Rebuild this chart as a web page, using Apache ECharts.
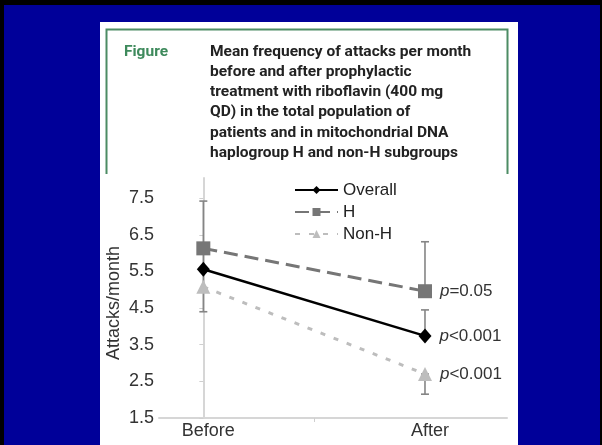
<!DOCTYPE html>
<html>
<head>
<meta charset="utf-8">
<script src="https://cdn.jsdelivr.net/npm/echarts@6/dist/echarts.min.js"></script>
<style>
html,body{margin:0;padding:0;background:#000;}
#chart{width:602px;height:445px;}
</style>
</head>
<body>
<div id="chart"></div>
<script>
// ---- data ----
const categories = ['Before', 'After'];
const seriesNames = ['Overall', 'H', 'Non-H'];
const overall = [5.56, 3.74];
const groupH = [6.13, 4.96];
const nonH = [5.08, 2.70];
const pLabels = ['<0.001', '=0.05', '<0.001'];
// [category index, low, high]
const errorBars = [[0, 4.40, 7.42], [1, 4.96, 6.31], [1, 3.74, 4.45], [1, 2.15, 2.70]];
const yTicks = [1.5, 2.5, 3.5, 4.5, 5.5, 6.5, 7.5];
const yAxisName = 'Attacks/month';
const figureLabel = 'Figure';
const titleLines = [
  'Mean frequency of attacks per month',
  'before and after prophylactic',
  'treatment with riboflavin (400 mg',
  'QD) in the total population of',
  'patients and in mitochondrial DNA',
  'haplogroup H and non-H subgroups'
];

const FONT = '"Liberation Sans", Arial, sans-serif';
const styles = [
  {color: '#000000', width: 2.5, type: 'solid', symbol: 'diamond', size: [13, 15]},
  {color: '#767676', width: 3, type: [14, 7], symbol: 'rect', size: 14},
  {color: '#bdbdbd', width: 3, type: [5, 9], symbol: 'triangle', size: 14}
];
const values = [overall, groupH, nonH];

function buildSeries(i) {
  const st = styles[i];
  const data = values[i].map(function (v, k) {
    if (k === values[i].length - 1) {
      return {
        value: [k, v],
        label: {
          show: true,
          position: 'right',
          distance: 8,
          formatter: '{i|p}{n|' + pLabels[i] + '}',
          rich: {
            i: {fontStyle: 'italic', fontSize: 17, fontFamily: FONT, color: '#333'},
            n: {fontSize: 17, fontFamily: FONT, color: '#333'}
          }
        }
      };
    }
    return [k, v];
  });
  return {
    name: seriesNames[i],
    type: 'line',
    data: data,
    z: 5 - i,
    symbol: st.symbol,
    symbolSize: st.size,
    itemStyle: {color: st.color},
    lineStyle: {color: st.color, width: st.width, type: st.type},
    emphasis: {disabled: true},
    animation: false
  };
}

const chart = echarts.init(document.getElementById('chart'), null, {renderer: 'canvas'});
chart.setOption({
  backgroundColor: '#000',
  animation: false,
  graphic: [
    {type: 'rect', z: 0, shape: {x: 4, y: 5, width: 596, height: 440}, style: {fill: '#000099'}},
    {type: 'rect', z: 0, shape: {x: 100, y: 22, width: 418, height: 423}, style: {fill: '#ffffff'}},
    {type: 'polyline', z: 0, shape: {points: [[106.5, 174], [106.5, 29.5], [507.5, 29.5], [507.5, 174]]},
      style: {stroke: '#4c8c64', lineWidth: 2, fill: null}},
    {type: 'text', z: 1, x: 124, y: 51.7, style: {text: figureLabel, fill: '#3e8a5c',
      font: 'bold 15.5px Roboto, "Liberation Sans", sans-serif', textVerticalAlign: 'middle'}},
    {type: 'text', z: 1, x: 210, y: 41.5, style: {text: titleLines.join('\n'), fill: '#222',
      font: 'bold 15.5px Roboto, "Liberation Sans", sans-serif', lineHeight: 20.3, textVerticalAlign: 'top'}}
  ],
  legend: {
    data: seriesNames,
    orient: 'vertical',
    left: 294,
    top: 179,
    padding: 0,
    itemWidth: 43,
    itemHeight: 10,
    itemGap: 0,
    textStyle: {fontSize: 17, fontFamily: FONT, color: '#222', lineHeight: 22},
    selectedMode: false
  },
  grid: {left: 159, right: 95, top: 178, bottom: 27, containLabel: false},
  xAxis: {
    type: 'value',
    min: -0.2,
    max: 1.37,
    axisLine: {show: true, lineStyle: {color: '#d6d6d6', width: 2}},
    axisTick: {show: true, customValues: [0.5], length: 4, lineStyle: {color: '#cfcfcf', width: 1}},
    axisLabel: {
      customValues: [0, 1],
      formatter: function (v) { return categories[Math.round(v)]; },
      fontSize: 18, fontFamily: FONT, color: '#333', margin: 4, padding: [0, 0, 0, 10]
    },
    splitLine: {show: false}
  },
  yAxis: {
    type: 'value',
    min: 1.5,
    max: 8.05,
    name: yAxisName,
    nameLocation: 'middle',
    nameGap: 36,
    nameMoveOverlap: false,
    nameTextStyle: {fontSize: 18, fontFamily: FONT, color: '#333', padding: [0, 10, 0, 0]},
    axisLine: {show: true, lineStyle: {color: '#d6d6d6', width: 2}},
    axisTick: {show: true, customValues: yTicks, length: 4, lineStyle: {color: '#cfcfcf', width: 1}},
    axisLabel: {customValues: yTicks, fontSize: 18, fontFamily: FONT, color: '#333', margin: 5,
      formatter: function (v) { return v.toFixed(1); }},
    splitLine: {show: false}
  },
  series: [
    {
      type: 'custom',
      name: 'errors',
      z: 1,
      silent: true,
      data: errorBars,
      encode: {x: 0, y: [1, 2]},
      renderItem: function (params, api) {
        const x = api.value(0);
        const lo = api.coord([x, api.value(1)]);
        const hi = api.coord([x, api.value(2)]);
        const c = 4;
        const st = {stroke: '#858585', lineWidth: 1.6};
        return {
          type: 'group',
          children: [
            {type: 'line', shape: {x1: lo[0], y1: lo[1], x2: hi[0], y2: hi[1]}, style: st},
            {type: 'line', shape: {x1: lo[0] - c, y1: lo[1], x2: lo[0] + c, y2: lo[1]}, style: st},
            {type: 'line', shape: {x1: hi[0] - c, y1: hi[1], x2: hi[0] + c, y2: hi[1]}, style: st}
          ]
        };
      }
    },
    buildSeries(0),
    buildSeries(1),
    buildSeries(2)
  ]
});
</script>
</body>
</html>
